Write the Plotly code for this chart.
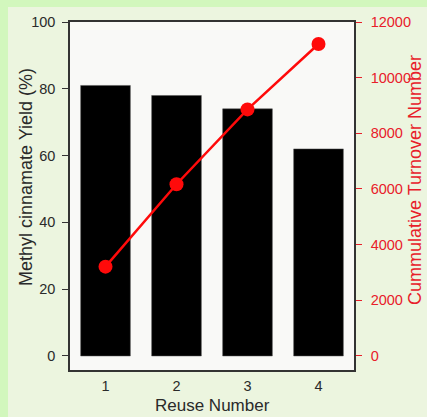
import plotly.graph_objects as go

reuse = [1, 2, 3, 4]
yield_pct = [81, 78, 74, 62]
turnover = [3210, 6170, 8860, 11210]
y_ticks = [0, 20, 40, 60, 80, 100]
ton_ticks = [0, 2000, 4000, 6000, 8000, 10000, 12000]

W, H = 427, 417
L, R, T, B = 70, 73, 22, 47
pw, ph = W - L - R, H - T - B

def px_x(x):
    return (x - L) / pw

def px_y(y):
    return (H - B - y) / ph

fig = go.Figure()
fig.add_trace(go.Bar(x=reuse, y=yield_pct, width=0.7,
                     marker=dict(color="#000000", line=dict(color="#555555", width=0.5)),
                     showlegend=False))
fig.add_trace(go.Scatter(x=reuse, y=turnover, yaxis="y2", mode="lines+markers",
                         line=dict(color="#ff0a0a", width=2.5),
                         marker=dict(color="#ff0a0a", size=14),
                         showlegend=False))

font = "Liberation Sans, Arial, sans-serif"
red = "#e8202a"
ymin = -4.2
fig.update_layout(
    width=W, height=H,
    margin=dict(l=L, r=R, t=T, b=B),
    paper_bgcolor="#ecf5df",
    plot_bgcolor="#f9f9f7",
    font=dict(family=font, size=14.5, color="#2a2a2a"),
    xaxis=dict(range=[0.5, 4.5], tickvals=reuse, ticktext=[str(v) for v in reuse],
               showline=True, linecolor="#333333", linewidth=1.5, mirror=True,
               ticks="", showgrid=False, zeroline=False, automargin=False,
               ticklabelstandoff=2, tickfont=dict(size=14.5)),
    yaxis=dict(range=[ymin, 100], tickvals=y_ticks,
               showline=True, linecolor="#333333", linewidth=1.5,
               ticks="outside", ticklen=6, tickcolor="#333333", tickwidth=1.2,
               showgrid=False, zeroline=False, automargin=False,
               ticklabelstandoff=4, tickfont=dict(size=14.5)),
    yaxis2=dict(range=[ymin * 120, 12000], tickvals=ton_ticks,
                ticktext=[str(v) for v in ton_ticks], overlaying="y", side="right",
                showline=True, linecolor="#333333", linewidth=1.5,
                ticks="outside", ticklen=6, tickcolor=red, tickwidth=1.2,
                showgrid=False, zeroline=False, automargin=False,
                ticklabelstandoff=6, tickfont=dict(size=14.5, color=red)),
    shapes=[
        dict(type="rect", xref="paper", yref="paper",
             x0=px_x(0), x1=px_x(8), y0=px_y(H), y1=px_y(0),
             fillcolor="#d2f7bd", line=dict(width=0), layer="below"),
        dict(type="rect", xref="paper", yref="paper",
             x0=px_x(0), x1=px_x(W), y0=px_y(7), y1=px_y(0),
             fillcolor="#d2f7bd", line=dict(width=0), layer="below"),
    ],
    annotations=[
        dict(text="Methyl cinnamate Yield (%)", xref="paper", yref="paper",
             x=px_x(26), y=px_y(177), xanchor="center", yanchor="middle",
             textangle=-90, showarrow=False, font=dict(size=18, color="#2a2a2a")),
        dict(text="Cummulative Turnover Number", xref="paper", yref="paper",
             x=px_x(415), y=px_y(180), xanchor="center", yanchor="middle",
             textangle=-90, showarrow=False, font=dict(size=18, color=red)),
        dict(text="Reuse Number", xref="paper", yref="paper",
             x=px_x(212), y=px_y(417), xanchor="center", yanchor="bottom",
             showarrow=False, font=dict(size=17, color="#2a2a2a")),
    ],
)
fig.write_html("out.html", config={"displayModeBar": False},
               post_script="document.body.style.margin='0';document.body.style.overflow='hidden';")
